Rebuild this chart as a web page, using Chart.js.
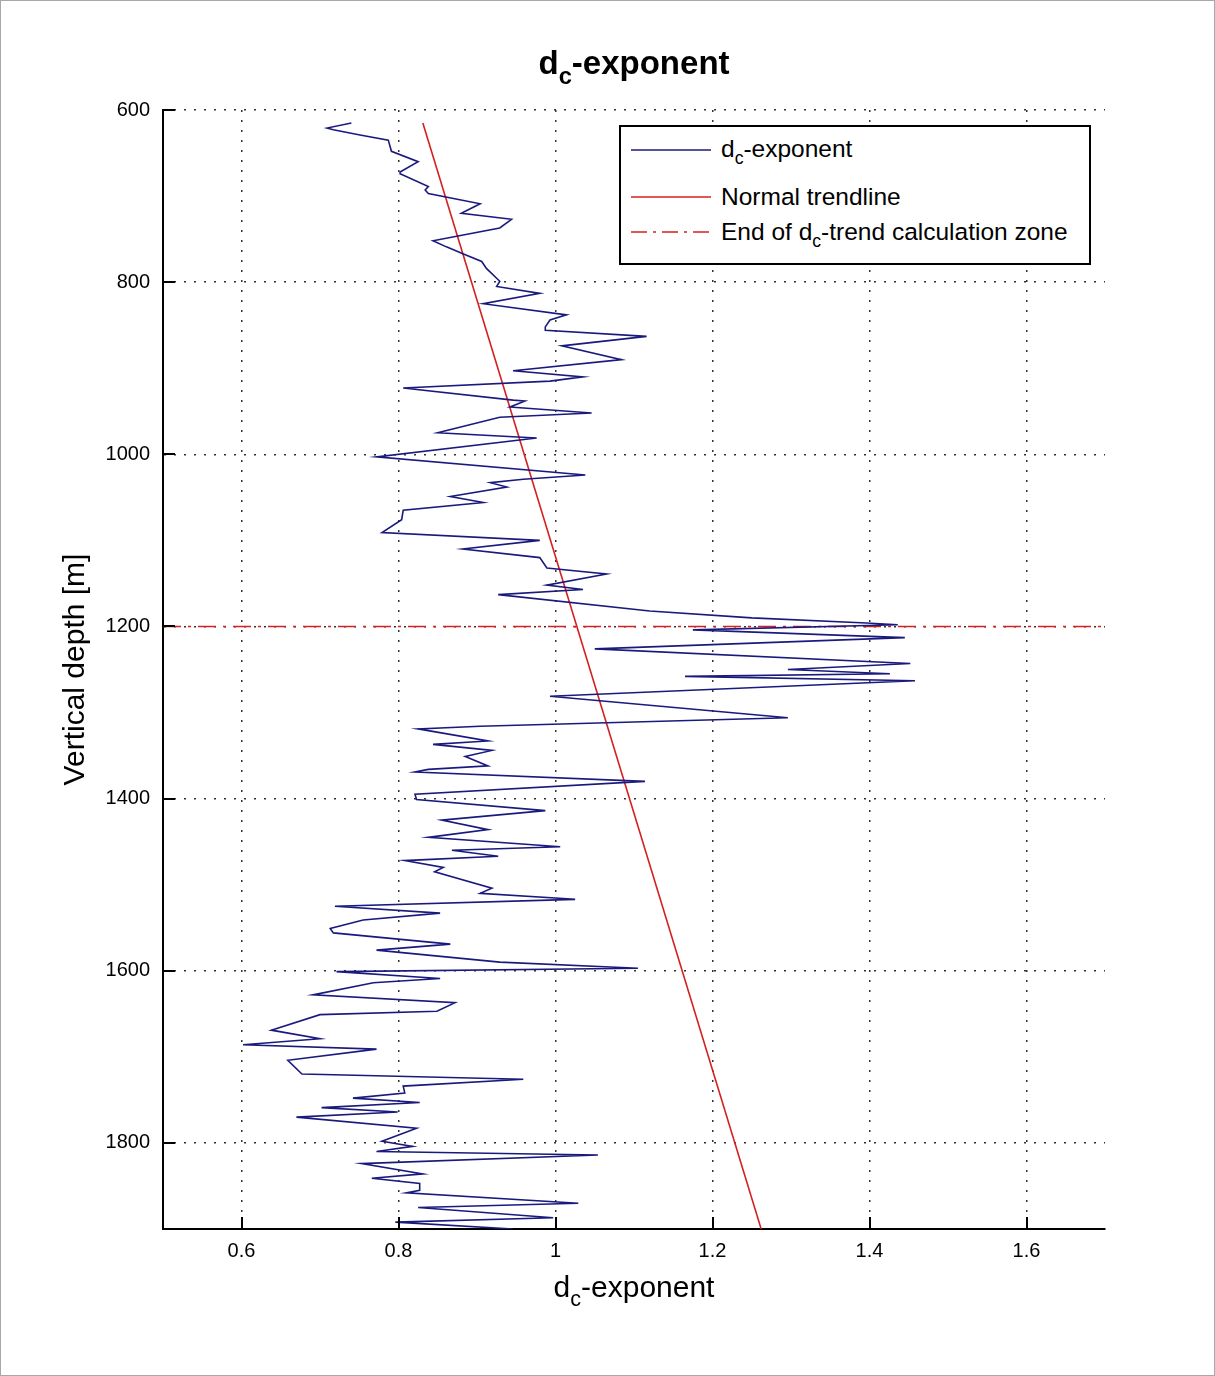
<!DOCTYPE html>
<html>
<head>
<meta charset="utf-8">
<title>dc-exponent</title>
<script src="https://cdn.jsdelivr.net/npm/chart.js@4.4.1/dist/chart.umd.min.js"></script>
<style>
  body { margin: 0; background: #fff; }
  #wrap { position: relative; width: 1215px; height: 1376px; font-family: 'Liberation Sans', Arial, sans-serif; color: #000; }
  #frame { position: absolute; left: 0; top: 0; width: 1215px; height: 1376px; box-sizing: border-box; border: 1px solid #a8a8a8; pointer-events: none; }
  canvas { position: absolute; left: 0; top: 0; }
  .sub { font-size: 0.72em; position: relative; top: 0.4em; }
  #title { position: absolute; left: 163px; width: 942px; top: 46px; text-align: center; font-size: 33px; font-weight: bold; line-height: 1; }
  #xlabel { position: absolute; left: 163px; width: 942px; top: 1272px; text-align: center; font-size: 30px; line-height: 1; }
  #legend { position: absolute; left: 619px; top: 125px; width: 472px; height: 140px; box-sizing: border-box; border: 2px solid #000; background: #fff; }
  .row { position: absolute; left: 8px; height: 30px; font-size: 24.5px; line-height: 30px; white-space: nowrap; }
  .row svg { position: absolute; left: 0; top: 0; }
  .row span.txt { position: absolute; left: 92px; top: 0; }
</style>
</head>
<body>
<div id="wrap">
  <canvas id="chart" width="1215" height="1376"></canvas>
  <div id="title">d<span class="sub">c</span>-exponent</div>
  <div id="xlabel">d<span class="sub">c</span>-exponent</div>
  <div id="legend">
    <div class="row" style="top:7px">
      <svg width="90" height="30"><line x1="2" y1="16" x2="82" y2="16" stroke="#1a1a7e" stroke-width="1.5"/></svg>
      <span class="txt">d<span class="sub">c</span>-exponent</span>
    </div>
    <div class="row" style="top:55px">
      <svg width="90" height="30"><line x1="2" y1="15" x2="82" y2="15" stroke="#d42020" stroke-width="1.5"/></svg>
      <span class="txt">Normal trendline</span>
    </div>
    <div class="row" style="top:90px">
      <svg width="90" height="30"><line x1="2" y1="15" x2="82" y2="15" stroke="#d42020" stroke-width="1.5" stroke-dasharray="16 6 3 6"/></svg>
      <span class="txt">End of d<span class="sub">c</span>-trend calculation zone</span>
    </div>
  </div>
  <div id="frame"></div>
</div>

<script>
const depthM = [
  615, 621, 623, 629, 635, 648, 660, 672, 674, 689, 693, 697, 709, 720, 727, 737, 752, 759, 767, 776,
  784, 799, 805, 813, 825, 838, 844, 852, 856, 863, 874, 890, 903, 910, 915, 923, 937, 938, 945, 952,
  957, 975, 981, 1003, 1024, 1029, 1033, 1038, 1049, 1056, 1065, 1076, 1091, 1100, 1110, 1120, 1132, 1139, 1152, 1157,
  1163, 1182, 1190, 1196, 1198, 1204, 1213, 1226, 1243, 1250, 1255, 1258, 1263, 1281, 1306, 1316, 1319, 1333, 1337, 1344,
  1351, 1362, 1366, 1369, 1380, 1395, 1401, 1414, 1425, 1436, 1445, 1456, 1460, 1467, 1472, 1480, 1485, 1504, 1510, 1517,
  1525, 1533, 1541, 1551, 1556, 1569, 1576, 1590, 1597, 1601, 1609, 1614, 1628, 1637, 1647, 1651, 1669, 1679, 1686, 1691,
  1704, 1720, 1726, 1734, 1742, 1748, 1753, 1759, 1764, 1770, 1783, 1798, 1804, 1810, 1814, 1824, 1836, 1841, 1847, 1855,
  1858, 1870, 1875, 1887, 1892, 1900
];
const dcExponent = [
  0.740, 0.709, 0.717, 0.751, 0.787, 0.791, 0.825, 0.802, 0.802, 0.838, 0.834, 0.838, 0.904, 0.880, 0.944, 0.929, 0.844, 0.861, 0.882, 0.906,
  0.912, 0.929, 0.925, 0.980, 0.908, 1.014, 0.993, 0.987, 0.987, 1.116, 1.008, 1.084, 0.946, 1.035, 0.993, 0.806, 0.946, 0.961, 0.942, 1.046,
  0.929, 0.850, 0.976, 0.772, 1.038, 0.959, 0.917, 0.938, 0.866, 0.908, 0.806, 0.804, 0.779, 0.980, 0.882, 0.980, 0.989, 1.065, 0.989, 1.035,
  0.927, 1.120, 1.250, 1.396, 1.436, 1.175, 1.445, 1.050, 1.452, 1.296, 1.426, 1.165, 1.458, 0.993, 1.296, 0.904, 0.825, 0.914, 0.844, 0.919,
  0.885, 0.914, 0.838, 0.821, 1.114, 0.821, 0.823, 0.987, 0.855, 0.914, 0.838, 1.006, 0.868, 0.927, 0.808, 0.857, 0.846, 0.919, 0.904, 1.025,
  0.719, 0.853, 0.755, 0.713, 0.717, 0.866, 0.772, 0.929, 1.105, 0.721, 0.853, 0.768, 0.691, 0.872, 0.849, 0.700, 0.638, 0.700, 0.602, 0.772,
  0.659, 0.677, 0.959, 0.806, 0.808, 0.742, 0.827, 0.702, 0.799, 0.670, 0.823, 0.779, 0.818, 0.772, 1.054, 0.753, 0.831, 0.766, 0.827, 0.827,
  0.810, 1.029, 0.825, 0.997, 0.796, 0.946
];

// normal compaction trend (straight line on this plot)
const trendDepth = [615, 1900];
const trendDc = [0.831, 1.262];

// end of trend calculation zone
const zoneDepth = 1200;
const zoneDc = [0.5, 1.7];

const xTicks = [0.6, 0.8, 1, 1.2, 1.4, 1.6];
const yTicks = [600, 800, 1000, 1200, 1400, 1600, 1800];

const BLUE = '#1a1a7e';
const RED = '#d42020';

Chart.defaults.font.family = "'Liberation Sans', Arial, sans-serif";
Chart.defaults.color = '#000';

// MATLAB style inward tick marks
const innerTicks = {
  id: 'innerTicks',
  afterDatasetsDraw(chart) {
    const { ctx, chartArea, scales } = chart;
    ctx.save();
    ctx.strokeStyle = '#000';
    ctx.lineWidth = 2;
    ctx.beginPath();
    xTicks.forEach(v => {
      const px = Math.round(scales.x.getPixelForValue(v));
      ctx.moveTo(px, chartArea.bottom);
      ctx.lineTo(px, chartArea.bottom - 12);
    });
    yTicks.forEach(v => {
      const py = Math.round(scales.y.getPixelForValue(v));
      ctx.moveTo(chartArea.left, py);
      ctx.lineTo(chartArea.left + 12, py);
    });
    ctx.stroke();
    ctx.restore();
  }
};

new Chart(document.getElementById('chart'), {
  type: 'scatter',
  data: {
    datasets: [
      {
        label: 'dc-exponent',
        data: depthM.map((d, i) => ({ x: dcExponent[i], y: d })),
        showLine: true,
        borderColor: BLUE,
        borderWidth: 1.6,
        pointRadius: 0,
        tension: 0,
      },
      {
        label: 'Normal trendline',
        data: trendDepth.map((d, i) => ({ x: trendDc[i], y: d })),
        showLine: true,
        borderColor: RED,
        borderWidth: 1.6,
        pointRadius: 0,
      },
      {
        label: 'End of dc-trend calculation zone',
        data: zoneDc.map(x => ({ x: x, y: zoneDepth })),
        showLine: true,
        borderColor: RED,
        borderWidth: 1.6,
        borderDash: [18, 7, 3, 7],
        pointRadius: 0,
      },
    ],
  },
  options: {
    responsive: false,
    animation: false,
    layout: { padding: { left: 0, top: 110, right: 110, bottom: 0 } },
    plugins: {
      legend: { display: false },
      title: { display: false },
      tooltip: { enabled: false },
    },
    scales: {
      x: {
        type: 'linear',
        min: 0.5,
        max: 1.7,
        afterBuildTicks: scale => { scale.ticks = xTicks.map(v => ({ value: v })); },
        afterFit: scale => { scale.height = 147; },
        ticks: { font: { size: 20 }, padding: 10, callback: v => String(v), maxRotation: 0 },
        grid: { color: '#333', lineWidth: 1.5, drawTicks: false },
        border: { display: true, color: '#000', width: 2, dash: [2, 8] },
      },
      y: {
        type: 'linear',
        reverse: true,
        min: 600,
        max: 1900,
        afterBuildTicks: scale => { scale.ticks = yTicks.map(v => ({ value: v })); },
        afterFit: scale => { scale.width = 163; },
        ticks: { font: { size: 20 }, padding: 13, callback: v => String(v) },
        grid: { color: '#333', lineWidth: 1.5, drawTicks: false },
        border: { display: true, color: '#000', width: 2, dash: [2, 8] },
        title: {
          display: true,
          text: 'Vertical depth [m]',
          font: { size: 30 },
          padding: { top: 58, bottom: 0 },
        },
      },
    },
  },
  plugins: [innerTicks],
});
</script>
</body>
</html>
